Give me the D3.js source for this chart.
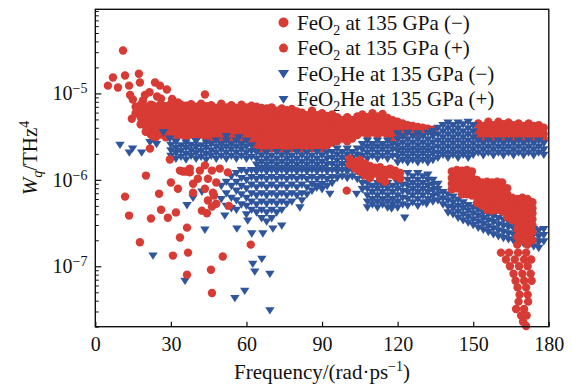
<!DOCTYPE html>
<html>
<head>
<meta charset="utf-8">
<script src="https://cdn.jsdelivr.net/npm/d3@7"></script>
<style>
  body { margin: 0; background: #fff; }
  text { font-family: "Liberation Serif", "Times New Roman", serif; fill: #111; }
</style>
</head>
<body>
<div id="chart"></div>
<script>
// W_q readings are in units of 1e-6 THz^4
// each row: [frequency, W_q, W_q, ...] read off at that frequency
const xTicks = [0, 30, 60, 90, 120, 150, 180];
const yTickExps = [-7, -6, -5];

const feo2Minus = [
  [5.0, 12.3], [7.0, 15.3], [9.0, 11.7], [11.0, 31.4], [11.8, 16.1], [13.4, 12.3], [13.8, 9.6],
  [14.9, 8.5], [14.5, 5.1], [16.5, 6.7], [17.3, 16.9], [17.7, 13.4], [18.9, 8.3], [19.7, 9.6],
  [21.5, 10.3], [22.9, 7.25], [23.7, 13.4], [24.5, 9.2], [25.7, 12.3], [26.1, 8.7], [28.4, 11.1],
  [30.5, 8.6], [32.8, 7.85], [43.5, 9.7], [68.1, 6.7],
  [16, 7.0, 5.9], [18, 7.4, 6.2, 5.3, 4.4], [20, 7.0, 6.0, 5.0, 4.2, 3.6],
  [22, 7.4, 6.3, 5.4, 4.6, 3.9, 3.35], [24, 7.0, 5.9, 5.0, 4.3, 3.65, 3.1],
  [26, 7.5, 6.4, 5.4, 4.6, 3.9, 3.35], [28, 7.1, 5.9, 5.0, 4.3, 3.65, 3.1],
  [30, 7.6, 6.3, 5.4, 4.6, 3.9, 3.35], [32, 7.0, 5.9, 5.0, 4.3, 3.65, 3.1],
  [34, 7.4, 6.3, 5.4, 4.6, 3.9, 3.35], [36, 7.2, 5.9, 5.0, 4.3, 3.65, 3.1],
  [38, 7.5, 6.3, 5.4, 4.6, 3.9, 3.35], [40, 7.0, 5.9, 5.0, 4.3, 3.65, 3.1],
  [42, 7.6, 6.3, 5.4, 4.6, 3.9, 3.35], [44, 7.1, 5.9, 5.0, 4.3, 3.65, 3.1],
  [46, 7.3, 6.2, 5.3, 4.5, 3.85, 3.3, 2.85], [48, 6.8, 5.8, 4.9, 4.2, 3.55, 3.05],
  [50, 7.6, 6.2, 5.3, 4.5, 3.85, 3.3, 2.85], [52, 6.9, 5.8, 4.9, 4.2, 3.55, 3.05],
  [54, 7.3, 6.2, 5.3, 4.5, 3.85, 3.3, 2.85], [56, 6.8, 5.8, 4.9, 4.2, 3.55, 3.05],
  [58, 7.4, 6.2, 5.3, 4.5, 3.85, 3.3, 2.85], [60, 6.9, 5.8, 4.9, 4.2, 3.55, 3.05],
  [62, 7.2, 6.2, 5.3, 4.5, 3.85, 3.3, 2.85], [64, 7.0, 5.8, 4.9, 4.2, 3.55, 3.05, 2.6, 2.3],
  [66, 6.8, 5.8, 4.9, 4.2, 3.55, 3.05, 2.6, 2.3], [68, 6.3, 5.35, 4.55, 3.9, 3.3, 2.8, 2.4],
  [70, 6.9, 5.8, 4.9, 4.2, 3.55, 3.05, 2.6, 2.3], [72, 6.3, 5.35, 4.55, 3.9, 3.3, 2.8, 2.4],
  [74, 6.7, 5.8, 4.9, 4.2, 3.55, 3.05, 2.6, 2.3], [76, 6.4, 5.35, 4.55, 3.9, 3.3, 2.8, 2.4],
  [78, 6.6, 5.8, 4.9, 4.2, 3.55, 3.05, 2.6, 2.3], [80, 6.2, 5.35, 4.55, 3.9, 3.3, 2.8, 2.4],
  [82, 6.0, 5.1, 4.35, 3.7, 3.15, 2.7, 2.3], [84, 5.6, 4.75, 4.05, 3.45, 2.95, 2.5],
  [86, 6.3, 5.1, 4.35, 3.7, 3.15, 2.7, 2.3], [88, 5.6, 4.75, 4.05, 3.45, 2.95, 2.5],
  [90, 5.9, 5.1, 4.35, 3.7, 3.15, 2.7, 2.3], [92, 5.5, 4.75, 4.05, 3.45, 2.95, 2.5],
  [94, 5.7, 5.1, 4.35, 3.7, 3.15, 2.7],
  [96, 5.3, 4.5, 3.85, 3.3, 2.8], [98, 4.9, 4.15, 3.55, 3.0], [100, 5.3, 4.5, 3.85, 3.3, 2.8],
  [102, 4.9, 4.15, 3.55, 3.0], [104, 5.4, 4.5, 3.85, 3.3],
  [106, 5.7, 4.85, 4.15, 3.55], [108, 5.3, 4.5, 3.85, 3.3], [110, 5.9, 4.85, 4.15, 3.55],
  [112, 5.4, 4.5, 3.85, 3.3], [114, 5.8, 4.85, 4.15, 3.55], [116, 5.2, 4.5, 3.85, 3.3],
  [118, 4.9, 4.2, 3.6, 3.1], [120, 4.7, 4.0, 3.4], [122, 4.5, 3.85, 3.3], [124, 4.3, 3.7],
  [126, 4.2, 3.6], [128, 4.1, 3.5], [130, 4.0, 3.45], [132, 3.9], [134, 3.8],
  [152, 4.5, 3.85, 3.3], [154, 4.2, 3.6, 3.1], [156, 4.7, 3.9, 3.3], [158, 4.3, 3.6, 3.1],
  [160, 4.7, 3.9, 3.3], [162, 4.4, 3.6, 3.1], [164, 4.6, 3.9, 3.3], [166, 4.3, 3.6, 3.1],
  [168, 4.5, 3.9, 3.3], [170, 4.2, 3.6, 3.1], [172, 4.5, 3.85, 3.3], [174, 4.2, 3.6, 3.1],
  [176, 4.3, 3.7, 3.2], [178, 4.0, 3.4, 3.0]
];

const feo2Plus = [
  [20.1, 1.12], [11.8, 0.64], [13.4, 0.386], [25.3, 0.69], [26.1, 0.45], [22.1, 0.357],
  [28.8, 0.365], [32.0, 0.42], [30.0, 0.93], [32.8, 0.79], [36.4, 0.28], [33.6, 0.215],
  [17.7, 0.19], [30.8, 0.133], [36.8, 0.144], [36.4, 0.08], [38.8, 0.9], [38.8, 0.71],
  [34.8, 1.25], [37.5, 1.22], [33.6, 1.28], [36.0, 1.25], [42.3, 0.44], [44.3, 0.41],
  [45.9, 0.091], [46.3, 0.049], [47.1, 0.66], [46.3, 0.49], [53.0, 0.50], [61.7, 0.178],
  [50.6, 0.13], [37.5, 1.35], [29.6, 1.72], [21.7, 2.3], [22.9, 3.19],
  [43.5, 1.47], [46.3, 1.28], [49.4, 1.35], [44.7, 1.03], [48.0, 0.93], [43.5, 0.79],
  [46.7, 0.71], [44.7, 0.576], [48.0, 0.53], [40.7, 1.03], [41.5, 1.28], [52.6, 1.22],
  [99.8, 0.75], [101, 1.76, 1.5], [103, 1.6, 1.35], [105, 1.7, 1.45, 1.25], [107, 1.55, 1.32, 1.12],
  [109, 1.45, 1.25, 1.05], [111, 1.38, 1.18], [113, 1.4, 1.2, 1.02], [115, 1.3, 1.12, 0.95],
  [117, 1.35, 1.15], [119, 1.28, 1.1], [121, 1.2, 1.03],
  [141.5, 1.25, 1.05, 0.9, 0.78], [143.5, 1.3, 1.1, 0.93, 0.8], [145.5, 1.28, 1.08, 0.92, 0.78, 0.68],
  [147.5, 1.3, 1.1, 0.93, 0.8, 0.68], [149.5, 1.25, 1.05, 0.9, 0.77, 0.66],
  [151.5, 1.0, 0.86, 0.74, 0.63, 0.54], [153.5, 0.93, 0.8, 0.68, 0.58, 0.5],
  [155.5, 0.95, 0.82, 0.7, 0.6, 0.52, 0.45], [157.5, 0.93, 0.8, 0.68, 0.58, 0.5, 0.44],
  [159.5, 0.95, 0.82, 0.7, 0.6, 0.52, 0.45], [161.5, 0.93, 0.8, 0.68, 0.58, 0.5, 0.43],
  [163.5, 0.8, 0.68, 0.58, 0.5, 0.43, 0.37], [165.5, 0.62, 0.53, 0.46, 0.4, 0.34],
  [167.5, 0.6, 0.52, 0.45, 0.39, 0.33, 0.27, 0.22, 0.178],
  [169.5, 0.62, 0.53, 0.46, 0.4, 0.34, 0.3, 0.25, 0.2],
  [171.5, 0.6, 0.52, 0.45, 0.39, 0.33, 0.27, 0.22, 0.178],
  [173.5, 0.55, 0.47, 0.41, 0.35, 0.3, 0.25, 0.2],
  [161.0, 0.144], [164.2, 0.144], [167.8, 0.144], [171.0, 0.144],
  [163.0, 0.12], [166.5, 0.12], [170.2, 0.12], [173.0, 0.12],
  [164.6, 0.10], [168.2, 0.10], [171.6, 0.10],
  [166.0, 0.082], [169.5, 0.082], [172.8, 0.082],
  [166.8, 0.068], [170.2, 0.068], [173.2, 0.068],
  [167.6, 0.057], [171.0, 0.057],
  [168.4, 0.047], [171.6, 0.047],
  [168.0, 0.039], [171.8, 0.039],
  [167.0, 0.032], [170.2, 0.032],
  [169.0, 0.027], [171.2, 0.027],
  [169.8, 0.0228], [171.0, 0.0204]
];

const feo2HeMinus = [
  [9.8, 2.55], [13.5, 2.07], [14.8, 2.3], [18.4, 2.07], [21.7, 2.73], [24.3, 2.6], [27.0, 3.56], [29.6, 3.0],
  [30, 2.55, 2.2, 1.9], [32, 2.75, 2.35, 2.05, 1.75], [34, 2.5, 2.15, 1.85], [36, 2.7, 2.35, 2.0, 1.72],
  [38, 2.55, 2.2, 1.9], [40, 2.8, 2.4, 2.05, 1.75], [42, 2.5, 2.15, 1.85], [44, 2.7, 2.35, 2.0, 1.72],
  [46, 2.6, 2.2, 1.9], [48, 2.85, 2.43, 2.07, 1.76], [50, 2.6, 2.25, 1.9], [52, 3.2, 2.85, 2.43, 2.07, 1.76],
  [54, 2.6, 2.25, 1.9], [56, 2.85, 2.43, 2.07, 1.76], [57, 3.1], [58, 2.6, 2.25, 1.9],
  [60, 2.85, 2.43, 2.07, 1.76], [62, 2.5, 2.15, 1.85],
  [64, 2.1, 1.76, 1.5, 1.28], [66, 1.92, 1.62, 1.38], [68, 2.07, 1.76, 1.5, 1.28], [70, 1.9, 1.62, 1.38],
  [72, 2.1, 1.76, 1.5, 1.28], [74, 1.92, 1.62, 1.38], [76, 2.05, 1.76, 1.5, 1.28], [78, 1.9, 1.62, 1.38],
  [80, 2.1, 1.76, 1.5, 1.28], [82, 1.92, 1.62, 1.38], [84, 2.07, 1.76, 1.5, 1.28], [86, 1.9, 1.62, 1.38],
  [88, 2.1, 1.76, 1.5, 1.28], [90, 1.92, 1.62, 1.38], [92, 2.07, 1.76, 1.5, 1.28], [94, 2.1, 1.8, 1.52],
  [96, 2.3, 1.96, 1.67, 1.42], [98, 2.1, 1.8, 1.52], [100, 2.3, 1.96, 1.67, 1.42], [102, 2.1, 1.8, 1.52],
  [104, 2.3, 1.96, 1.67, 1.42],
  [106, 2.6, 2.25, 1.9], [108, 2.85, 2.43, 2.07, 1.76], [110, 2.6, 2.25, 1.9], [112, 2.85, 2.43, 2.07, 1.76],
  [114, 2.6, 2.25, 1.9], [116, 2.85, 2.43, 2.07, 1.76], [118, 2.6, 2.25, 1.9],
  [120, 3.45, 2.95, 2.5, 2.15, 1.85, 1.6], [122, 3.2, 2.7, 2.3, 2.0, 1.7],
  [124, 3.5, 2.95, 2.5, 2.15, 1.85, 1.6], [126, 3.2, 2.7, 2.3, 2.0, 1.7],
  [128, 3.45, 2.95, 2.5, 2.15, 1.85, 1.6], [130, 3.2, 2.7, 2.3, 2.0, 1.7],
  [132, 3.5, 2.95, 2.5, 2.15, 1.85, 1.6], [134, 3.7, 3.2, 2.7, 2.3, 2.0, 1.7],
  [136, 4.0, 3.37, 2.85, 2.43, 2.07, 1.8], [138, 4.3, 3.65, 3.1, 2.65, 2.25, 1.95],
  [140, 4.6, 3.95, 3.37, 2.85, 2.43, 2.07, 1.8], [142, 4.3, 3.65, 3.1, 2.65, 2.25, 1.95],
  [144, 4.6, 3.95, 3.37, 2.85, 2.43, 2.07, 1.8], [146, 4.4, 3.65, 3.1, 2.65, 2.25, 1.95],
  [148, 4.7, 3.95, 3.37, 2.85, 2.43, 2.07, 1.8], [150, 4.3, 3.65, 3.1, 2.65, 2.25, 1.95],
  [152, 2.85, 2.43, 2.07], [154, 2.65, 2.25, 1.92], [156, 2.85, 2.43, 2.07], [158, 2.65, 2.25, 1.92],
  [160, 2.85, 2.43, 2.07], [162, 2.65, 2.25, 1.92], [164, 2.85, 2.43, 2.07], [166, 2.65, 2.25, 1.92],
  [168, 2.85, 2.43, 2.07], [170, 2.65, 2.25, 1.92], [172, 2.85, 2.43, 2.07], [174, 2.65, 2.25, 1.92],
  [176, 2.85, 2.43, 2.07], [178, 2.65, 2.25, 1.95]
];

const feo2HePlus = [
  [22.9, 0.133], [35.6, 0.068], [36.4, 0.51], [38.8, 0.62], [42.3, 0.73], [43.5, 0.265],
  [66.1, 0.122], [62.5, 0.107], [63.3, 0.087], [69.3, 0.082], [59.3, 0.052], [55.4, 0.043],
  [69.3, 0.031], [51.4, 0.386], [56.2, 0.273], [60.5, 0.338], [62.1, 0.24], [66.5, 0.24],
  [70.5, 0.273], [74.0, 0.296], [81.2, 0.48], [87.9, 0.81], [93.1, 0.69], [103.7, 0.69],
  [117.6, 0.465], [122.8, 0.365], [131.5, 0.53],
  [50, 0.85, 0.6], [52, 0.95, 0.7, 0.5], [54, 1.1, 0.85, 0.62, 0.47], [56, 1.2, 0.95, 0.75, 0.58, 0.45],
  [58, 1.3, 1.05, 0.85, 0.68, 0.52], [60, 1.25, 1.0, 0.8, 0.62, 0.5, 0.4],
  [62, 1.3, 1.08, 0.88, 0.7, 0.56, 0.45], [64, 1.25, 1.02, 0.82, 0.66, 0.52, 0.42],
  [66, 1.3, 1.08, 0.88, 0.7, 0.56, 0.45, 0.36], [68, 1.25, 1.02, 0.82, 0.66, 0.53, 0.42, 0.33],
  [70, 1.3, 1.08, 0.88, 0.7, 0.56, 0.45, 0.36], [72, 1.25, 1.02, 0.82, 0.66, 0.53, 0.42],
  [74, 1.3, 1.08, 0.88, 0.7, 0.56, 0.45], [76, 1.25, 1.02, 0.82, 0.66, 0.53],
  [78, 1.3, 1.08, 0.88, 0.7, 0.56], [80, 1.25, 1.02, 0.82, 0.66], [82, 1.3, 1.08, 0.88, 0.7, 0.58],
  [84, 1.25, 1.02, 0.82, 0.68], [86, 1.3, 1.08, 0.9, 0.75], [88, 1.25, 1.02, 0.85],
  [90, 1.3, 1.08, 0.9, 0.78], [92, 1.25, 1.02, 0.85], [94, 1.3, 1.08, 0.92], [96, 1.25, 1.05],
  [98, 1.3, 1.1], [100, 1.25, 1.05], [102, 1.3, 1.1], [104, 1.25, 1.02], [106, 1.1, 0.92, 0.78],
  [108, 0.92, 0.79, 0.66, 0.56, 0.48], [110, 0.85, 0.72, 0.6, 0.52], [112, 0.92, 0.79, 0.66, 0.56, 0.48],
  [114, 0.85, 0.72, 0.6, 0.52], [116, 0.92, 0.79, 0.66, 0.56, 0.48], [118, 0.85, 0.72, 0.6, 0.52],
  [120, 0.92, 0.79, 0.66, 0.56, 0.48], [122, 0.88, 0.74, 0.62, 0.52],
  [124, 1.2, 1.0, 0.85, 0.72, 0.6, 0.5], [126, 1.1, 0.92, 0.78, 0.66, 0.55],
  [128, 1.2, 1.0, 0.85, 0.72, 0.6, 0.5], [130, 1.1, 0.92, 0.78, 0.66, 0.55],
  [132, 1.15, 1.0, 0.85, 0.72, 0.6], [134, 1.0, 0.88, 0.76, 0.65, 0.56], [136, 0.9, 0.78, 0.68, 0.58],
  [138, 0.72, 0.61, 0.52], [140, 0.68, 0.58, 0.49, 0.42], [142, 0.64, 0.55, 0.47, 0.40],
  [144, 0.59, 0.50, 0.43, 0.365], [146, 0.55, 0.47, 0.40, 0.34], [148, 0.51, 0.44, 0.375, 0.32],
  [150, 0.48, 0.41, 0.35, 0.30], [152, 0.45, 0.385, 0.33, 0.28], [154, 0.42, 0.36, 0.31, 0.265],
  [156, 0.40, 0.34, 0.29, 0.25], [158, 0.38, 0.325, 0.275, 0.235], [160, 0.36, 0.305, 0.26, 0.222],
  [162, 0.345, 0.295, 0.25, 0.213], [164, 0.33, 0.285, 0.24, 0.205], [166, 0.32, 0.275, 0.232, 0.198],
  [168, 0.305, 0.26, 0.222, 0.19], [170, 0.295, 0.25, 0.215, 0.183], [172, 0.285, 0.242, 0.207, 0.177],
  [174, 0.272, 0.233, 0.198, 0.17], [176, 0.26, 0.222, 0.19, 0.163], [178, 0.27, 0.23, 0.195]
];

const legendLabels = [
  ["FeO", "2", " at 135 GPa (\u2212)"],
  ["FeO", "2", " at 135 GPa (+)"],
  ["FeO", "2", "He at 135 GPa (\u2212)"],
  ["FeO", "2", "He at 135 GPa (+)"]
];

const red = "#d83a34", blue = "#2f559c";
const width = 572, height = 385;
const margin = { top: 9.3, right: 23.2, bottom: 58.3, left: 95.3 };

const svg = d3.select("#chart").append("svg")
  .attr("width", width)
  .attr("height", height);

const x = d3.scaleLinear()
  .domain([0, 180])
  .range([margin.left, width - margin.right]);

const y = d3.scaleLog()
  .domain([0.02, 94])
  .range([height - margin.bottom, margin.top]);

const toPoints = rows => rows.flatMap(([f, ...ws]) => ws.map(w => [f, w]));

const triDown = {
  draw(ctx, size) {
    const w = size, h = size * 0.78;
    ctx.moveTo(-w / 2, -h * 0.42);
    ctx.lineTo(w / 2, -h * 0.42);
    ctx.lineTo(0, h * 0.58);
    ctx.closePath();
  }
};

const circleSym = d3.symbol(d3.symbolCircle, Math.PI * 4.2 * 4.2)();
const triSym = d3.symbol(triDown, 9.4)();

const plot = svg.append("g");

function drawSeries(rows, sym, color) {
  plot.append("g").selectAll("path")
    .data(toPoints(rows))
    .join("path")
    .attr("d", sym)
    .attr("fill", color)
    .attr("transform", d => `translate(${x(d[0])},${y(d[1])})`);
}

drawSeries(feo2Minus, circleSym, red);
drawSeries(feo2HeMinus, triSym, blue);
drawSeries(feo2HePlus, triSym, blue);
drawSeries(feo2Plus, circleSym, red);

// axes
const xAxis = svg.append("g")
  .attr("transform", `translate(0,${height - margin.bottom})`)
  .call(d3.axisBottom(x).tickValues(xTicks).tickSize(-5).tickPadding(10).tickFormat(d3.format("d")));
xAxis.select(".domain").remove();
xAxis.selectAll("text").attr("font-size", 20).attr("font-family", "Liberation Serif").attr("fill", "#111");
xAxis.selectAll("line").attr("stroke", "#111").attr("stroke-width", 1.2);

const majors = yTickExps.map(e => Math.pow(10, e + 6));
const minors = [];
[0.01, 0.1, 1, 10].forEach(b => { for (let k = 2; k <= 9; k++) if (b * k >= 0.02 && b * k <= 94) minors.push(b * k); });

const yAxis = svg.append("g")
  .attr("transform", `translate(${margin.left},0)`)
  .call(d3.axisLeft(y).tickValues(majors).tickSize(-6).tickFormat(""));
yAxis.select(".domain").remove();
yAxis.selectAll("line").attr("stroke", "#111").attr("stroke-width", 1.2);

const yMinor = svg.append("g")
  .attr("transform", `translate(${margin.left},0)`)
  .call(d3.axisLeft(y).tickValues(minors).tickSize(-3.5).tickFormat(""));
yMinor.select(".domain").remove();
yMinor.selectAll("line").attr("stroke", "#111").attr("stroke-width", 1);

const yLabels = svg.append("g");
yTickExps.forEach((e, i) => {
  const t = yLabels.append("text")
    .attr("x", 87.5)
    .attr("y", y(majors[i]) + 7)
    .attr("text-anchor", "end")
    .attr("font-size", 20);
  t.append("tspan").text("10");
  t.append("tspan").attr("font-size", 14).attr("dy", -7).text("\u2212" + Math.abs(e));
});

// frame
svg.append("rect")
  .attr("x", margin.left)
  .attr("y", margin.top)
  .attr("width", width - margin.left - margin.right)
  .attr("height", height - margin.top - margin.bottom)
  .attr("fill", "none")
  .attr("stroke", "#111")
  .attr("stroke-width", 1.4);

// axis titles
const xt = svg.append("text")
  .attr("x", (margin.left + width - margin.right) / 2)
  .attr("y", 379)
  .attr("text-anchor", "middle")
  .attr("font-size", 21);
xt.append("tspan").text("Frequency/(rad\u00b7ps");
xt.append("tspan").attr("font-size", 14).attr("dy", -8).text("\u22121");
xt.append("tspan").attr("dy", 8).text(")");

const yt = svg.append("text")
  .attr("transform", "translate(37,158) rotate(-90)")
  .attr("text-anchor", "middle")
  .attr("font-size", 21);
yt.append("tspan").attr("font-style", "italic").text("W");
yt.append("tspan").attr("font-style", "italic").attr("font-size", 14).attr("dy", 5).text("q");
yt.append("tspan").attr("dy", -5).text("/THz");
yt.append("tspan").attr("font-size", 14).attr("dy", -8).text("4");

// legend
const legendY = [29.5, 55.1, 80.6, 106.2];
const legendSyms = [
  d3.symbol(d3.symbolCircle, Math.PI * 5 * 5)(),
  d3.symbol(d3.symbolCircle, Math.PI * 4.5 * 4.5)(),
  d3.symbol(triDown, 11)(),
  d3.symbol(triDown, 10)()
];
const legendColors = [red, red, blue, blue];
const legend = svg.append("g");
legendLabels.forEach((parts, i) => {
  legend.append("path")
    .attr("d", legendSyms[i])
    .attr("fill", legendColors[i])
    .attr("transform", `translate(283.5,${legendY[i] - 7})`);
  const t = legend.append("text")
    .attr("x", 297)
    .attr("y", legendY[i])
    .attr("font-size", 21);
  t.append("tspan").text(parts[0]);
  t.append("tspan").attr("font-size", 14).attr("dy", 5).text(parts[1]);
  t.append("tspan").attr("dy", -5).text(parts[2]);
});
</script>
</body>
</html>
